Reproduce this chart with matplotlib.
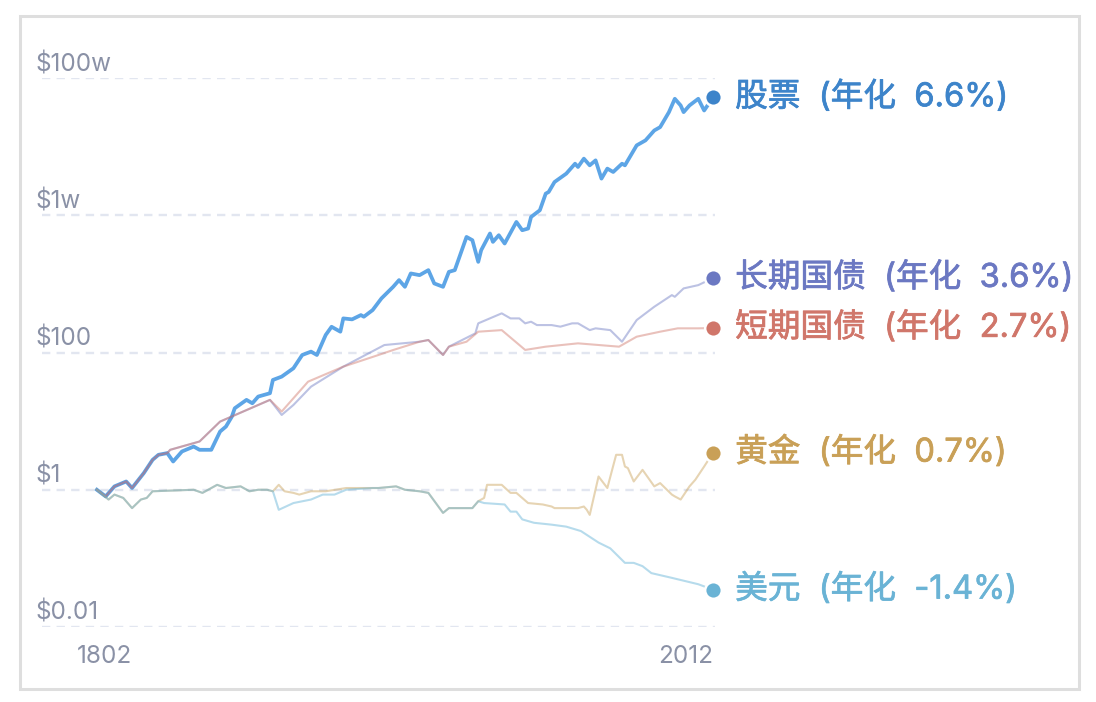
import matplotlib
matplotlib.use("Agg")
import matplotlib.pyplot as plt
import matplotlib.patheffects as pe
from matplotlib.patches import Rectangle
from matplotlib.transforms import ScaledTranslation, blended_transform_factory

plt.rcParams['font.family'] = ['Inter', 'Noto Sans CJK SC', 'DejaVu Sans']
plt.rcParams['lines.scale_dashes'] = False

# ---- data (growth of $1 invested in 1802) ----
stock_years = [1802, 1805, 1808, 1812, 1814, 1818, 1821, 1823, 1826, 1828, 1831, 1835, 1837, 1841,
               1844, 1846, 1848, 1849, 1853, 1855, 1857, 1861, 1862, 1865, 1869, 1872, 1875, 1877,
               1880, 1882, 1885, 1886, 1889, 1892, 1893, 1896, 1899, 1903, 1905, 1907, 1909, 1912,
               1915, 1917, 1920, 1922, 1924, 1928, 1930, 1932, 1933, 1936, 1937, 1939, 1941, 1945,
               1947, 1949, 1950, 1953, 1955, 1956, 1958, 1962, 1965, 1966, 1968, 1970, 1972, 1974,
               1976, 1978, 1981, 1982, 1984, 1986, 1989, 1990, 1992, 1994, 1997, 1999, 2001, 2002,
               2004, 2007, 2009, 2012]
stock_vals = [1.0, 0.80, 1.12, 1.32, 1.06, 1.75, 2.73, 3.23, 3.42, 2.58, 3.61, 4.26, 3.82, 3.82,
              7.05, 8.33, 11.6, 15.4, 20.4, 18.2, 22.8, 25.5, 39.8, 44.5, 58.9, 92, 103, 92,
              180, 237, 201, 314, 304, 351, 332, 415, 614, 906, 1135, 906, 1419, 1340,
              1585, 1015, 906, 1497, 1585, 4830, 4330, 2093, 3097, 5420, 4090, 5117, 3875, 7990,
              6050, 6400, 9440, 11830, 20660, 21820, 30500, 40400, 56400, 50500, 66800, 53400, 63100, 34200,
              47800, 42700, 56400, 53400, 74600, 104300, 123300, 137700, 172000, 192400, 317700, 498000, 398000, 318000,
              398000, 498000, 336000, 520000]

long_years = [1802, 1805, 1808, 1812, 1814, 1818, 1821, 1823, 1826, 1827, 1837, 1844, 1861, 1865,
              1869, 1875, 1886, 1900, 1912, 1915, 1920, 1922, 1931, 1932, 1940, 1943, 1946, 1948,
              1950, 1952, 1957, 1960, 1964, 1966, 1970, 1972, 1977, 1981, 1986, 1992, 1998, 1999,
              2002, 2007, 2012]
long_vals = [1.0, 0.80, 1.12, 1.32, 1.06, 1.75, 2.73, 3.23, 3.42, 3.82, 5.05, 9.85, 20.4, 12.3,
             17.2, 31.8, 62.2, 128.5, 143.6, 152, 92, 121.6, 190, 266, 372, 314, 314, 266,
             281, 251, 251, 238, 266, 266, 212, 225, 212, 143.6, 297, 464, 686, 648,
             859, 959, 1213]

short_years = [1802, 1805, 1808, 1812, 1814, 1818, 1821, 1823, 1826, 1827, 1837, 1844, 1861, 1865,
               1874, 1886, 1898, 1903, 1912, 1915, 1920, 1922, 1928, 1932, 1940, 1948, 1955, 1966,
               1980, 1986, 1994, 2000, 2007, 2012]
short_vals = [1.0, 0.80, 1.12, 1.32, 1.06, 1.75, 2.73, 3.23, 3.42, 3.82, 5.05, 9.85, 20.4, 13.8,
              37.6, 62.2, 92, 108.7, 143.6, 152, 92, 121.6, 143.6, 201, 212, 109, 121.6, 136,
              121.6, 170, 201, 225, 225, 227]

gold_years = [1802, 1806, 1808, 1811, 1814, 1817, 1819, 1821, 1835, 1838, 1843, 1846, 1851, 1854,
              1857, 1860, 1862, 1864, 1866, 1869, 1871, 1875, 1880, 1887, 1898, 1904, 1907, 1912,
              1915, 1920, 1922, 1930, 1932, 1934, 1935, 1940, 1943, 1945, 1949, 1954, 1957, 1958,
              1966, 1968, 1969, 1970, 1973, 1976, 1979, 1981, 1982, 1983, 1985, 1988, 1992, 1994,
              1998, 1999, 2001, 2004, 2006, 2009, 2012]
gold_vals = [1.0, 0.72, 0.85, 0.76, 0.54, 0.72, 0.76, 0.95, 1.0, 0.90, 1.18, 1.06, 1.12, 0.95,
             1.0, 1.0, 0.95, 1.18, 0.95, 0.90, 0.85, 0.95, 0.95, 1.06, 1.06, 1.12, 1.0, 0.95,
             0.90, 0.46, 0.54, 0.54, 0.68, 0.76, 1.18, 1.18, 0.90, 0.90, 0.64, 0.61, 0.57, 0.54,
             0.54, 0.57, 0.51, 0.43, 1.56, 1.06, 3.23, 3.23, 2.18, 2.07, 1.32, 1.95, 1.12, 1.25,
             0.85, 0.80, 0.72, 1.12, 1.40, 2.18, 3.45]

usd_years = [1802, 1806, 1808, 1811, 1814, 1817, 1819, 1821, 1835, 1838, 1843, 1846, 1851, 1854,
             1857, 1860, 1862, 1864, 1869, 1875, 1879, 1883, 1887, 1896, 1898, 1904, 1907, 1912,
             1915, 1920, 1922, 1930, 1932, 1934, 1941, 1943, 1945, 1947, 1951, 1957, 1962, 1967,
             1973, 1977, 1982, 1985, 1988, 1991, 1998, 2007, 2012]
usd_vals = [1.0, 0.72, 0.85, 0.76, 0.54, 0.72, 0.76, 0.95, 1.0, 0.90, 1.18, 1.06, 1.12, 0.95,
            1.0, 1.0, 0.95, 0.51, 0.64, 0.72, 0.85, 0.85, 1.0, 1.06, 1.06, 1.12, 1.0, 0.95,
            0.90, 0.46, 0.54, 0.54, 0.68, 0.64, 0.61, 0.48, 0.48, 0.37, 0.33, 0.31, 0.29, 0.25,
            0.17, 0.14, 0.086, 0.086, 0.077, 0.061, 0.052, 0.042, 0.035]

names = ['股票', '长期国债', '短期国债', '黄金', '美元']
annual = ['6.6%', '3.6%', '2.7%', '0.7%', '-1.4%']

y_ticks = [0.01, 1, 100, 1e4, 1e6]
y_labels = ['$0.01', '$1', '$100', '$1w', '$100w']
x_ticks = [1802, 2012]

series = [(stock_years, stock_vals), (long_years, long_vals), (short_years, short_vals),
          (gold_years, gold_vals), (usd_years, usd_vals)]
dot_colors = ['#3D84CA', '#6B78C2', '#D0766A', '#C9A057', '#6AB3D5']
line_styles = [dict(color='#5DA5E6', lw=2.7, alpha=1.0, zorder=3),
               dict(color='#6B78C2', lw=1.5, alpha=0.45, zorder=4),
               dict(color='#D0766A', lw=1.5, alpha=0.45, zorder=4),
               dict(color='#C9A057', lw=1.5, alpha=0.45, zorder=4),
               dict(color='#5FB0D5', lw=1.5, alpha=0.45, zorder=4)]

fig = plt.figure(figsize=(10.96, 7.02), dpi=100)
fig.patch.set_facecolor('white')
fig.patches.append(Rectangle((20 / 1096, 13 / 702), 1059 / 1096, 673 / 702, transform=fig.transFigure,
                             fill=False, edgecolor='#DEDEDE', lw=2.2, figure=fig))

ax = fig.add_axes([42 / 1096, 75 / 702, 673 / 1096, 549 / 702])
ax.set_yscale('log')
ax.set_ylim(0.01, 1e6)
ax.set_xlim(1783.3, 2012.7)
for s in ax.spines.values():
    s.set_visible(False)

# dashed grid lines
for v in y_ticks:
    ax.axhline(v, color='#E2E6F0', lw=1.7, dashes=(6, 4.5), zorder=1)
ax.set_yticks([])
ax.minorticks_off()

trans = blended_transform_factory(ax.transAxes, ax.transData)
for v, lab in zip(y_ticks, y_labels):
    ax.text(-0.009, v, lab, transform=trans + ScaledTranslation(0, 0.14, fig.dpi_scale_trans),
            ha='left', va='center', fontsize=17.5, color='#8A91A6')

ax.set_xticks(x_ticks, [str(t) for t in x_ticks])
ax.tick_params(axis='x', length=0, pad=13, labelsize=17.5, labelcolor='#8A91A6')
xl = ax.get_xticklabels()
xl[0].set_transform(xl[0].get_transform() + ScaledTranslation(0.08, 0, fig.dpi_scale_trans))
xl[1].set_ha('right')

for (xs, ys), st, dc, nm, an in zip(series, line_styles, dot_colors, names, annual):
    ax.plot(xs, ys, solid_joinstyle='round', **st)
    ax.plot(xs[-1], ys[-1], 'o', ms=12, color=dc, mec='white', mew=1.8, zorder=6, clip_on=False)
    ax.annotate(f'{nm}  (年化  {an})', (xs[-1], ys[-1]), xytext=(16, 0), textcoords='offset points',
                ha='left', va='center', fontsize=23.5, color=dc,
                path_effects=[pe.withStroke(linewidth=0.55, foreground=dc)],
                annotation_clip=False)

fig.savefig('out.png', dpi=100)
